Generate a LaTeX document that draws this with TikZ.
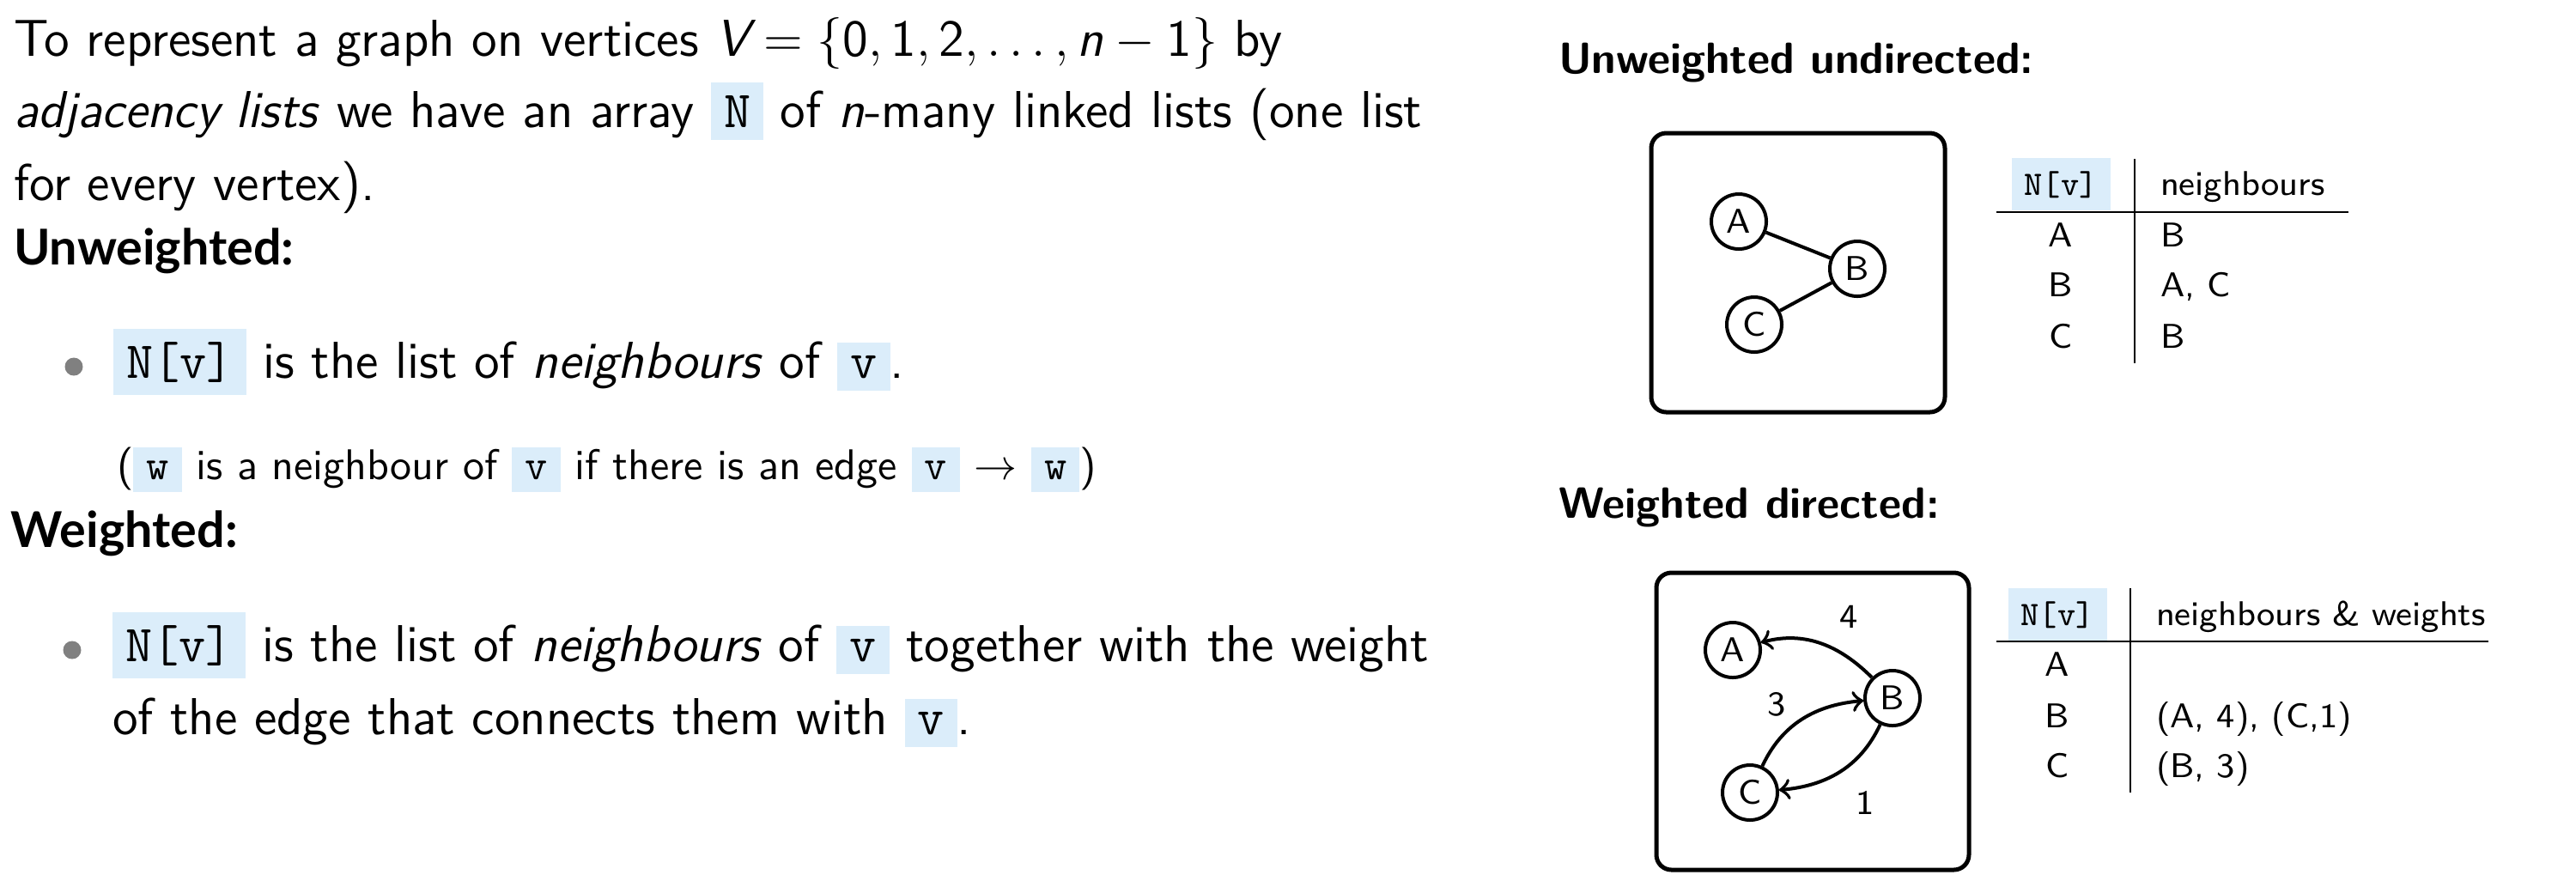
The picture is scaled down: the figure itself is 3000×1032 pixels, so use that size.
\documentclass[tikz,border=0pt]{standalone}
\usepackage{amsmath}
\usepackage{amssymb}
\usepackage{fontspec}
\usepackage{tikz}
\renewcommand{\familydefault}{\sfdefault}
\newfontfamily\latofont{Lato}
\definecolor{codebg}{RGB}{219,237,250}
\definecolor{bulletgray}{RGB}{128,128,128}
\newcommand{\code}[1]{{\setlength{\fboxsep}{3pt}\colorbox{codebg}{\ttfamily #1}}}

\begin{document}
\begin{tikzpicture}[x=0.2pt, y=0.2pt,
  txt/.style={anchor=base west, inner sep=0pt, font=\fontsize{12.1}{14}\selectfont},
  smalltxt/.style={anchor=base west, inner sep=0pt, font=\fontsize{10}{12}\selectfont},
  heading/.style={anchor=base west, inner sep=0pt, font=\latofont\bfseries\fontsize{11.5}{14}\selectfont},
  subheading/.style={anchor=base west, inner sep=0pt, font=\fontsize{10.2}{12}\selectfont\bfseries},
  bullet/.style={circle, fill=bulletgray, inner sep=0pt, minimum size=4.2pt},
  vertex/.style={circle, draw, line width=0.8pt, minimum size=12.8pt, inner sep=0pt, font=\fontsize{8}{9}\selectfont},
  panel/.style={draw, line width=1pt, rounded corners=3.5pt},
  cell/.style={anchor=base, inner sep=0pt, font=\fontsize{8}{9}\selectfont},
  cellw/.style={anchor=base west, inner sep=0pt, font=\fontsize{8}{9}\selectfont},
  link/.style={line width=0.8pt},
  wlabel/.style={inner sep=0pt, font=\fontsize{8}{9}\selectfont}]
\useasboundingbox (0,0) rectangle (3000,-1032);
\node[txt] (l1) at (15,-65) {To represent a graph on vertices $\textit{V} = \{\mathsf{0}, \mathsf{1}, \mathsf{2}, \ldots, \textit{n} - \mathsf{1}\}$ by};
\node[txt] (l2) at (15,-148) {\textit{adjacency lists} we have an array \code{N} of \textit{n}-many linked lists (one list};
\node[txt] (l3) at (15,-233) {for every vertex).};
\node[heading] (h1) at (15,-308) {Unweighted:};
\node[bullet] (d1) at (86,-427) {};
\node[txt] (b1) at (131,-440) {\code{N[v]} is the list of \textit{neighbours} of \code{v}.};
\node[smalltxt] (p1) at (135,-558) {(\code{w} is a neighbour of \code{v} if there is an edge \code{v} $\rightarrow$ \code{w})};
\node[heading] (h2) at (12,-637) {Weighted:};
\node[bullet] (d2) at (84,-757) {};
\node[txt] (b2) at (130,-770) {\code{N[v]} is the list of \textit{neighbours} of \code{v} together with the weight};
\node[txt] (b3) at (130,-855) {of the edge that connects them with \code{v}.};

\node[subheading] (h3) at (1814,-85) {Unweighted undirected:};
\draw[panel] (1923,-155) rectangle (2265,-480);
\node[vertex] (a1) at (2025,-258) {A};
\node[vertex] (b1g) at (2163,-313) {B};
\node[vertex] (c1) at (2043,-378) {C};
\draw[link] (a1) -- (b1g);
\draw[link] (c1) -- (b1g);
\node[cell] (t1h) at (2400,-227) {\code{N[v]}};
\node[cellw] (t1n) at (2515,-227) {neighbours};
\node[cell] (t1a) at (2400,-287) {A};
\node[cellw] (t1an) at (2515,-287) {B};
\node[cell] (t1b) at (2400,-345) {B};
\node[cellw] (t1bn) at (2515,-345) {A, C};
\node[cell] (t1c) at (2400,-405) {C};
\node[cellw] (t1cn) at (2515,-405) {B};
\draw[line width=0.5pt] (2325,-247) -- (2735,-247);
\draw[line width=0.4pt] (2486,-185) -- (2486,-423);

\node[subheading] (h4) at (1814,-603) {Weighted directed:};
\draw[panel] (1929,-667) rectangle (2293,-1013);
\node[vertex] (a2) at (2018,-757) {A};
\node[vertex] (b2g) at (2204,-813) {B};
\node[vertex] (c2) at (2038,-923) {C};
\draw[link, ->] (b2g) to[out=135, in=15] (a2);
\draw[link, ->] (c2) to[out=65, in=185] (b2g);
\draw[link, ->] (b2g) to[out=-115, in=5] (c2);
\node[wlabel] (w4) at (2153,-718) {4};
\node[wlabel] (w3) at (2069,-820) {3};
\node[wlabel] (w1) at (2172,-935) {1};
\node[cell] (t2h) at (2396,-728) {\code{N[v]}};
\node[cellw] (t2n) at (2510,-728) {neighbours \& weights};
\node[cell] (t2a) at (2396,-787) {A};
\node[cell] (t2b) at (2396,-847) {B};
\node[cellw] (t2bn) at (2510,-847) {(A, 4), (C,1)};
\node[cell] (t2c) at (2396,-905) {C};
\node[cellw] (t2cn) at (2510,-905) {(B, 3)};
\draw[line width=0.5pt] (2325,-747) -- (2898,-747);
\draw[line width=0.4pt] (2481,-685) -- (2481,-923);
\end{tikzpicture}
\end{document}
